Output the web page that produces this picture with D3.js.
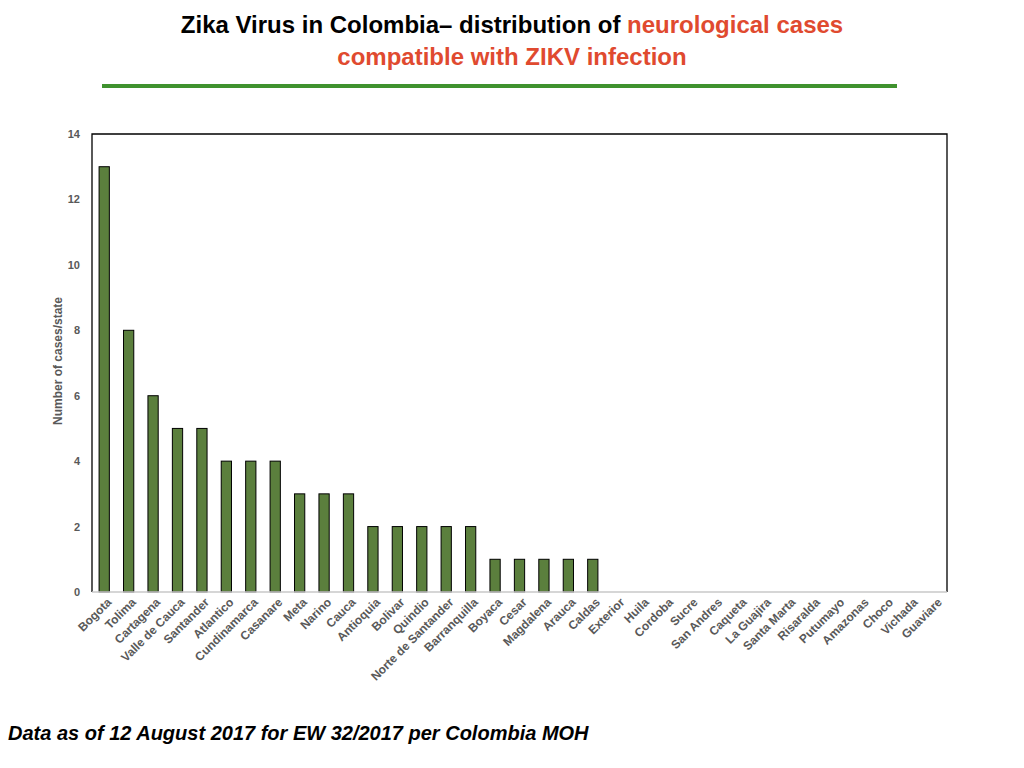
<!DOCTYPE html>
<html>
<head>
<meta charset="utf-8">
<script src="https://cdn.jsdelivr.net/npm/d3@7"></script>
<style>
  body { margin: 0; background: #fff; }
  svg { display: block; font-family: "Liberation Sans", Arial, sans-serif; }
</style>
</head>
<body>
<svg id="chart" width="1024" height="768"></svg>
<script>
// departments / cities, in the order of the chart
const states = ["Bogota", "Tolima", "Cartagena", "Valle de Cauca", "Santander", "Atlantico",
  "Cundinamarca", "Casanare", "Meta", "Narino", "Cauca", "Antioquia", "Bolivar", "Quindio",
  "Norte de Santander", "Barranquilla", "Boyaca", "Cesar", "Magdalena", "Arauca", "Caldas",
  "Exterior", "Huila", "Cordoba", "Sucre", "San Andres", "Caqueta", "La Guajira", "Santa Marta",
  "Risaralda", "Putumayo", "Amazonas", "Choco", "Vichada", "Guaviare"];
const cases = [13, 8, 6, 5, 5, 4, 4, 4, 3, 3, 3, 2, 2, 2, 2, 2, 1, 1, 1, 1, 1,
  0, 0, 0, 0, 0, 0, 0, 0, 0, 0, 0, 0, 0, 0];
const yTicks = [0, 2, 4, 6, 8, 10, 12, 14];

const svg = d3.select("#chart");

// plot area
const margin = { top: 134, right: 77, bottom: 176, left: 92 };
const width = 1024 - margin.left - margin.right,
      height = 768 - margin.top - margin.bottom;

// title
const title = svg.append("text")
    .attr("x", 512).attr("y", 33)
    .attr("text-anchor", "middle")
    .style("font-size", "24px").style("font-weight", "bold");
title.append("tspan").attr("fill", "#000").text("Zika Virus in Colombia\u2013  distribution of ");
title.append("tspan").attr("fill", "#e04a2f").text("neurological cases");
svg.append("text")
    .attr("x", 512).attr("y", 65)
    .attr("text-anchor", "middle")
    .attr("fill", "#e04a2f")
    .style("font-size", "24px").style("font-weight", "bold")
    .text("compatible with ZIKV infection");

svg.append("line")
    .attr("x1", 102).attr("x2", 897)
    .attr("y1", 86).attr("y2", 86)
    .attr("stroke", "#3f922e").attr("stroke-width", 4);

const g = svg.append("g").attr("transform", `translate(${margin.left},${margin.top})`);

const x = d3.scaleBand().domain(states).range([0, width]).paddingInner(0.58).paddingOuter(0.29);
const y = d3.scaleLinear().domain([0, 14]).range([height, 0]);

// frame: black left/top/right, grey baseline
g.append("path")
    .attr("d", `M0,${height}V0H${width}V${height}`)
    .attr("fill", "none").attr("stroke", "#000").attr("stroke-width", 1.3);

// bars
g.selectAll("rect.bar")
  .data(states.map((s, i) => ({ s, v: cases[i] })))
  .enter().append("rect")
    .attr("class", "bar")
    .attr("x", d => x(d.s))
    .attr("y", d => y(d.v))
    .attr("width", x.bandwidth())
    .attr("height", d => height - y(d.v))
    .attr("fill", "#5b7f3d")
    .attr("stroke", "#000").attr("stroke-width", 1)
    .style("display", d => d.v > 0 ? null : "none");

// baseline
g.append("line")
    .attr("x1", 0).attr("x2", width)
    .attr("y1", height).attr("y2", height)
    .attr("stroke", "#c8c8c8").attr("stroke-width", 1.3);

// y axis
const yAxis = g.append("g")
    .call(d3.axisLeft(y).tickValues(yTicks).tickSize(0).tickPadding(12));
yAxis.select(".domain").remove();
yAxis.selectAll("text")
    .attr("fill", "#595959")
    .style("font-size", "11px").style("font-weight", "bold")
    .style("font-family", "Liberation Sans, Arial, sans-serif");

// x axis
const xAxis = g.append("g")
    .attr("transform", `translate(0,${height})`)
    .call(d3.axisBottom(x).tickSize(0).tickPadding(0));
xAxis.select(".domain").remove();
xAxis.selectAll("text")
    .attr("fill", "#595959")
    .style("font-size", "12px").style("font-weight", "bold")
    .style("font-family", "Liberation Sans, Arial, sans-serif")
    .attr("text-anchor", "end")
    .attr("dy", null)
    .attr("y", 0)
    .attr("transform", "translate(8,11) rotate(-45)");

// y axis title
svg.append("text")
    .attr("transform", `translate(62,${margin.top + height / 2 - 2}) rotate(-90)`)
    .attr("text-anchor", "middle")
    .attr("fill", "#595959")
    .style("font-size", "12px").style("font-weight", "bold")
    .text("Number of cases/state");

// footer
svg.append("text")
    .attr("x", 8).attr("y", 740)
    .attr("fill", "#000")
    .style("font-size", "20px").style("font-weight", "bold").style("font-style", "italic")
    .text("Data as of 12 August 2017 for EW 32/2017 per Colombia MOH");
</script>
</body>
</html>
